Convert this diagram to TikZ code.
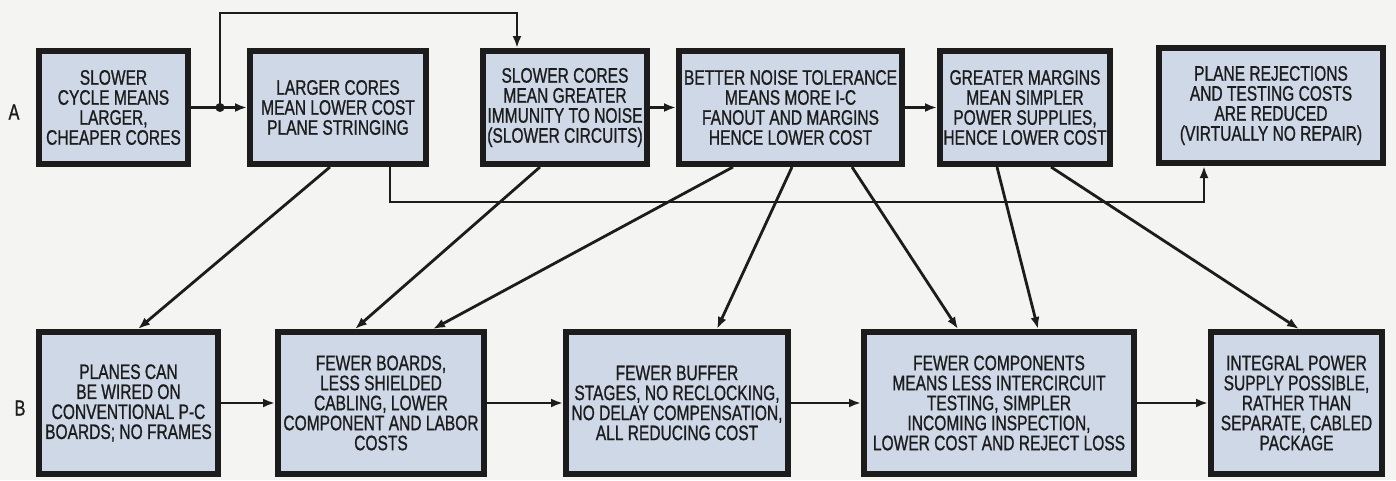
\documentclass[tikz,border=0pt]{standalone}
\usepackage{fontspec}
\setmainfont{Liberation Sans}[FakeStretch=0.74,FakeBold=0.9]
\usetikzlibrary{arrows.meta,calc}
\definecolor{boxfill}{RGB}{206,216,231}
\definecolor{bgc}{RGB}{244,244,242}
\definecolor{ink}{RGB}{28,28,28}
\begin{document}
\begin{tikzpicture}[x=1pt,y=-1pt,
  box/.style={draw=ink, fill=boxfill, line width=6pt, align=center, inner sep=1pt,
    text=ink, font=\fontsize{21}{20}\selectfont},
  conn/.style={draw=ink, line width=2.8pt, -{Latex[length=12pt,width=9pt]}},
  plainline/.style={draw=ink, line width=2.8pt},
  rowlab/.style={text=ink, font=\fontsize{22}{22}\selectfont}]
\fill[bgc] (0,0) rectangle (1396,480);
\useasboundingbox (0,0) rectangle (1396,480);

% row A
\node[box, minimum width=149pt, minimum height=113pt] (A1) at (113.5,107.5)
  {SLOWER\\CYCLE MEANS\\LARGER,\\CHEAPER CORES};
\node[box, minimum width=176pt, minimum height=113pt] (A2) at (338,107.5)
  {LARGER CORES\\MEAN LOWER COST\\PLANE STRINGING};
\node[box, minimum width=164pt, minimum height=113pt] (A3) at (565,107.5)
  {SLOWER CORES\\MEAN GREATER\\IMMUNITY TO NOISE\\(SLOWER CIRCUITS)};
\node[box, minimum width=223pt, minimum height=113pt] (A4) at (790.5,107.5)
  {BETTER NOISE TOLERANCE\\MEANS MORE I-C\\FANOUT AND MARGINS\\HENCE LOWER COST};
\node[box, minimum width=170pt, minimum height=113pt] (A5) at (1025,107.5)
  {GREATER MARGINS\\MEAN SIMPLER\\POWER SUPPLIES,\\HENCE LOWER COST};
\node[box, minimum width=224pt, minimum height=115pt] (A6) at (1271,105.5)
  {PLANE REJECTIONS\\AND TESTING COSTS\\ARE REDUCED\\(VIRTUALLY NO REPAIR)};

% row B
\node[box, minimum width=179pt, minimum height=142pt] (B1) at (128.5,403)
  {PLANES CAN\\BE WIRED ON\\CONVENTIONAL P-C\\BOARDS; NO FRAMES};
\node[box, minimum width=206pt, minimum height=142pt] (B2) at (381,403)
  {FEWER BOARDS,\\LESS SHIELDED\\CABLING, LOWER\\COMPONENT AND LABOR\\COSTS};
\node[box, minimum width=222pt, minimum height=142pt] (B3) at (677,403)
  {FEWER BUFFER\\STAGES, NO RECLOCKING,\\NO DELAY COMPENSATION,\\ALL REDUCING COST};
\node[box, minimum width=270pt, minimum height=142pt] (B4) at (999,403)
  {FEWER COMPONENTS\\MEANS LESS INTERCIRCUIT\\TESTING, SIMPLER\\INCOMING INSPECTION,\\LOWER COST AND REJECT LOSS};
\node[box, minimum width=171pt, minimum height=142pt] (B5) at (1296.5,403)
  {INTEGRAL POWER\\SUPPLY POSSIBLE,\\RATHER THAN\\SEPARATE, CABLED\\PACKAGE};

% row labels
\node[rowlab] (labA) at (14,112) {A};
\node[rowlab] (labB) at (20,408) {B};

% row A connectors
\coordinate (J) at (220,107.5);
\coordinate (T) at (517,13);
\draw[plainline] (A1.east) -- (J);
\draw[conn] (J) -- (A2.west);
\draw[conn] (J) |- (T) -- (A3.north -| T);
\fill[ink] (J) circle (4.5pt);
\draw[conn] (A3.east) -- (A4.west);
\draw[conn] (A4.east) -- (A5.west);

\coordinate (L1) at (390,202);
\coordinate (L2) at (1204,202);
\draw[conn] (A2.south -| L1) -- (L1) -- (L2) -- (A6.south -| L2);

% diagonals
\draw[conn] ([xshift=-8pt]A2.south) -- ([xshift=9.5pt]B1.north);
\draw[conn] ([xshift=-25pt]A3.south) -- ([xshift=-26pt]B2.north);
\draw[conn] ([xshift=-57.5pt]A4.south) -- ([xshift=52pt]B2.north);
\draw[conn] ([xshift=1.5pt]A4.south) -- ([xshift=40pt]B3.north);
\draw[conn] ([xshift=61.5pt]A4.south) -- ([xshift=-41pt]B4.north);
\draw[conn] ([xshift=-28pt]A5.south) -- ([xshift=39pt]B4.north);
\draw[conn] ([xshift=26pt]A5.south) -- ([xshift=2.5pt]B5.north);

% row B connectors
\draw[conn] (B1.east) -- (B2.west);
\draw[conn] (B2.east) -- (B3.west);
\draw[conn] (B3.east) -- (B4.west);
\draw[conn] (B4.east) -- (B5.west);
\end{tikzpicture}
\end{document}
